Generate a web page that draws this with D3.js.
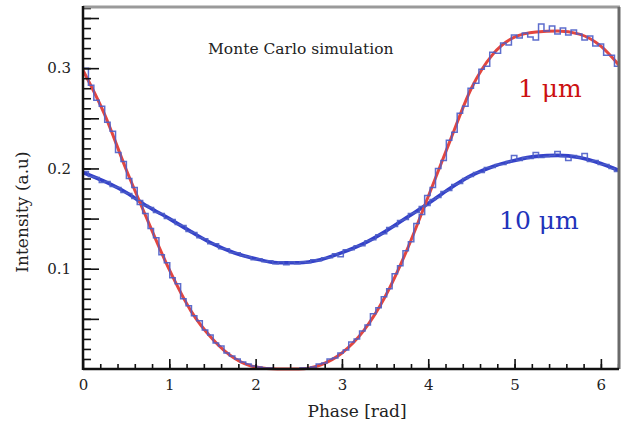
<!DOCTYPE html>
<html>
<head>
<meta charset="utf-8">
<script src="https://cdn.jsdelivr.net/npm/d3@7"></script>
<style>
  body { margin: 0; background: #fff; }
  text { font-family: "DejaVu Serif", "Liberation Serif", serif; }
</style>
</head>
<body>
<svg id="chart" width="627" height="426"></svg>
<script>
// --------------------------------------
// DATA
// --------------------------------------
// fitted curves, sampled every 0.25 rad
var fitX = [0, 0.25, 0.5, 0.75, 1, 1.25, 1.5, 1.75, 2, 2.25, 2.5, 2.75, 3,
    3.25, 3.5, 3.75, 4, 4.25, 4.5, 4.75, 5, 5.25, 5.5, 5.75, 6, 6.21];
var fit1um = [0.298, 0.254, 0.199, 0.148, 0.099, 0.058, 0.030, 0.011, 0.002, 0.000,
    0.000, 0.004, 0.016, 0.038, 0.072, 0.118, 0.172, 0.227, 0.280, 0.314,
    0.331, 0.336, 0.337, 0.334, 0.322, 0.303];
var fit10um = [0.196, 0.187, 0.176, 0.162, 0.150, 0.137, 0.125, 0.116, 0.110, 0.106,
    0.106, 0.109, 0.116, 0.125, 0.137, 0.151, 0.165, 0.180, 0.193, 0.202,
    0.208, 0.212, 0.213, 0.211, 0.205, 0.198];

// Monte Carlo histograms, 100 bins over 2*pi (bins shown up to the frame)
var hist1um = [
    0.300, 0.283, 0.268, 0.262, 0.246, 0.237, 0.216, 0.207, 0.190, 0.181,
    0.164, 0.155, 0.140, 0.131, 0.114, 0.106, 0.091, 0.085, 0.070, 0.063,
    0.053, 0.048, 0.039, 0.034, 0.026, 0.023, 0.016, 0.013, 0.010, 0.007,
    0.005, 0.003, 0.002, 0.001, 0.001, 0.000, 0.000, 0.000, 0.000, 0.000,
    0.001, 0.001, 0.002, 0.005, 0.006, 0.010, 0.011, 0.016, 0.019, 0.027,
    0.030, 0.038, 0.044, 0.055, 0.061, 0.072, 0.080, 0.095, 0.103, 0.118,
    0.127, 0.145, 0.154, 0.173, 0.181, 0.200, 0.208, 0.228, 0.236, 0.255,
    0.262, 0.280, 0.285, 0.299, 0.302, 0.316, 0.315, 0.325, 0.323, 0.333,
    0.330, 0.335, 0.331, 0.328, 0.344, 0.337, 0.342, 0.334, 0.340, 0.333,
    0.338, 0.334, 0.328, 0.332, 0.322, 0.324, 0.313, 0.313, 0.302];
var hist10um = [
    0.197, 0.192, 0.191, 0.186, 0.187, 0.182, 0.181, 0.176, 0.175, 0.170,
    0.168, 0.163, 0.161, 0.156, 0.155, 0.150, 0.149, 0.144, 0.143, 0.137,
    0.136, 0.131, 0.130, 0.125, 0.125, 0.120, 0.120, 0.116, 0.116, 0.113,
    0.112, 0.109, 0.110, 0.107, 0.108, 0.105, 0.107, 0.104, 0.107, 0.105,
    0.107, 0.106, 0.109, 0.108, 0.111, 0.111, 0.115, 0.112, 0.119, 0.119,
    0.123, 0.123, 0.128, 0.129, 0.134, 0.135, 0.141, 0.142, 0.148, 0.149,
    0.155, 0.156, 0.162, 0.163, 0.169, 0.171, 0.177, 0.178, 0.184, 0.185,
    0.190, 0.192, 0.196, 0.196, 0.201, 0.201, 0.204, 0.204, 0.207, 0.213,
    0.208, 0.211, 0.210, 0.216, 0.211, 0.212, 0.213, 0.217, 0.212, 0.208,
    0.213, 0.211, 0.215, 0.207, 0.208, 0.204, 0.204, 0.200, 0.197];

var xTickLabels = [0, 1, 2, 3, 4, 5, 6];
var yTickLabels = [0.1, 0.2, 0.3];

// --------------------------------------
// SETUP
// --------------------------------------
var svg = d3.select('#chart');
// note: "top" is taken by window.top, so prefix the box edges
var boxL = 83, boxR = 619, boxT = 7, boxB = 369;

var x = d3.scaleLinear().domain([0, 6.21]).range([boxL, boxR]);
var y = d3.scaleLinear().domain([0, 0.361]).range([boxB, boxT]);

svg.append('defs').append('clipPath').attr('id', 'plot-clip')
    .append('rect')
    .attr('x', boxL).attr('y', boxT - 4)
    .attr('width', boxR - boxL).attr('height', boxB - boxT + 6);

var plot = svg.append('g').attr('clip-path', 'url(#plot-clip)');

// histograms as steps
var binW = 2 * Math.PI / 100;
function stepPoints(vals) {
    var pts = vals.map(function(v, i){ return [i * binW, v]; });
    pts.push([vals.length * binW, vals[vals.length - 1]]);
    return pts;
}
var stepLine = d3.line()
    .x(function(d){ return x(d[0]); })
    .y(function(d){ return y(d[1]); })
    .curve(d3.curveStepAfter);

var fitLine = d3.line()
    .x(function(d){ return x(d[0]); })
    .y(function(d){ return y(d[1]); })
    .curve(d3.curveMonotoneX);

// fits
plot.append('path')
    .attr('d', fitLine(fitX.map(function(v, i){ return [v, fit10um[i]]; })))
    .attr('fill', 'none').attr('stroke', '#3441c9').attr('stroke-width', 3.6);

plot.append('path')
    .attr('d', fitLine(fitX.map(function(v, i){ return [v, fit1um[i]]; })))
    .attr('fill', 'none').attr('stroke', '#e3463f').attr('stroke-width', 3);

// histograms on top, thin and a bit lighter
[hist10um, hist1um].forEach(function(h){
    plot.append('path')
        .attr('d', stepLine(stepPoints(h)))
        .attr('fill', 'none')
        .attr('stroke', '#4b5dc8')
        .attr('stroke-opacity', 0.9)
        .attr('stroke-width', 1.5);
});

// --------------------------------------
// AXES
// --------------------------------------
// y: minor ticks every 0.01, long ticks every 0.05, pointing inward
var yMinor = d3.range(1, 37).map(function(i){ return i / 100; });
var yMajor = d3.range(1, 8).map(function(i){ return i * 0.05; });

var gyMinor = svg.append('g').attr('transform', 'translate(' + boxL + ',0)')
    .call(d3.axisRight(y).tickValues(yMinor).tickSize(8).tickFormat(''));
var gyMajor = svg.append('g').attr('transform', 'translate(' + boxL + ',0)')
    .call(d3.axisRight(y).tickValues(yMajor).tickSize(16).tickFormat(''));
var gyLab = svg.append('g').attr('transform', 'translate(' + boxL + ',0)')
    .call(d3.axisLeft(y).tickValues(yTickLabels).tickSize(0).tickPadding(12)
        .tickFormat(d3.format('.1f')));

// x: minor every 0.2, major on integers, pointing up
var xMinor = d3.range(1, 32).map(function(i){ return i * 0.2; });
var gxMinor = svg.append('g').attr('transform', 'translate(0,' + boxB + ')')
    .call(d3.axisTop(x).tickValues(xMinor).tickSize(5).tickFormat(''));
var gxMajor = svg.append('g').attr('transform', 'translate(0,' + boxB + ')')
    .call(d3.axisTop(x).tickValues(xTickLabels).tickSize(10).tickFormat(''));
var gxLab = svg.append('g').attr('transform', 'translate(0,' + boxB + ')')
    .call(d3.axisBottom(x).tickValues(xTickLabels).tickSize(0).tickPadding(10)
        .tickFormat(d3.format('d')));

[gyMinor, gyMajor, gyLab, gxMinor, gxMajor, gxLab].forEach(function(g){
    g.select('.domain').remove();
    g.selectAll('line').attr('stroke', '#111').attr('stroke-width', 1.6);
    g.selectAll('text').attr('fill', '#222').style('font-size', '15px')
        .style('font-family', '"DejaVu Serif", serif');
});

// frame: gray top & right, black left & bottom
svg.append('line').attr('x1', boxL).attr('x2', boxR + 1).attr('y1', boxT).attr('y2', boxT)
    .attr('stroke', '#9a9a9a').attr('stroke-width', 3);
svg.append('line').attr('x1', boxR).attr('x2', boxR).attr('y1', boxT).attr('y2', boxB)
    .attr('stroke', '#6a6a6a').attr('stroke-width', 3);
svg.append('line').attr('x1', boxL).attr('x2', boxL).attr('y1', boxT - 1).attr('y2', boxB + 1)
    .attr('stroke', '#111').attr('stroke-width', 2.5);
svg.append('line').attr('x1', boxL).attr('x2', boxR).attr('y1', boxB).attr('y2', boxB)
    .attr('stroke', '#111').attr('stroke-width', 2.5);

// --------------------------------------
// LABELS
// --------------------------------------
svg.append('text')
    .attr('x', 357).attr('y', 417)
    .attr('text-anchor', 'middle')
    .attr('fill', '#222')
    .style('font-size', '17px')
    .text('Phase [rad]');

svg.append('text')
    .attr('transform', 'translate(28,212) rotate(-90)')
    .attr('text-anchor', 'middle')
    .attr('fill', '#222')
    .style('font-size', '17px')
    .text('Intensity (a.u)');

svg.append('text')
    .attr('x', 208).attr('y', 54)
    .attr('fill', '#222')
    .style('font-size', '15.5px')
    .text('Monte Carlo simulation');

svg.append('text')
    .attr('x', 518).attr('y', 97)
    .attr('fill', '#cc1111')
    .style('font-size', '25px')
    .text('1 \u03bcm');

svg.append('text')
    .attr('x', 499).attr('y', 229)
    .attr('fill', '#2233bb')
    .style('font-size', '25px')
    .text('10 \u03bcm');
</script>
</body>
</html>
